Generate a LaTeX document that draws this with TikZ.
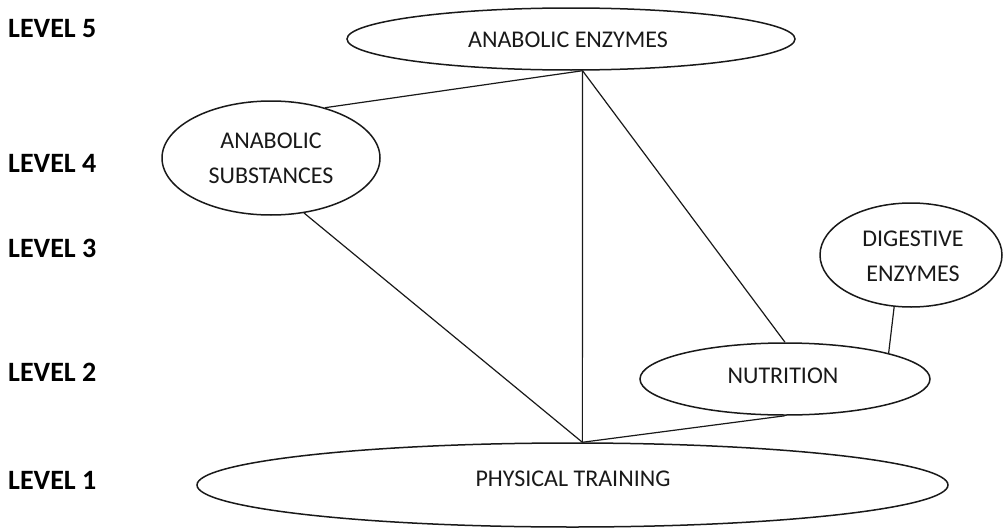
\documentclass[tikz,border=0pt]{standalone}
\usepackage{fontspec}
\setmainfont{Carlito}
\usetikzlibrary{shapes.geometric}
\begin{document}
\begin{tikzpicture}[x=1pt,y=-1pt,
  oval/.style={draw, ellipse, line width=1.5pt, black!90, inner sep=0pt},
  lab/.style={font=\fontsize{24}{35}\selectfont, text=black!90, align=center, inner sep=0pt},
  link/.style={line width=1.2pt, black!90},
  lvl/.style={anchor=west, inner sep=0pt, font=\fontsize{28}{30}\selectfont\bfseries}]
\useasboundingbox (0,0) rectangle (1004,530);
\fill[white] (0,0) rectangle (1004,530);
% level labels
\node[lvl] (l5) at (8,29) {LEVEL 5};
\node[lvl] (l4) at (8,163) {LEVEL 4};
\node[lvl] (l3) at (8,248) {LEVEL 3};
\node[lvl] (l2) at (8,372) {LEVEL 2};
\node[lvl] (l1) at (8,480) {LEVEL 1};
% ellipses
\node[oval, minimum width=448pt, minimum height=62pt] (ae) at (571,39) {};
\node[lab] (aet) at (568,40) {ANABOLIC ENZYMES};
\node[oval, minimum width=218pt, minimum height=114pt] (as) at (271,158) {};
\node[lab] (ast) at (271,158) {ANABOLIC\\SUBSTANCES};
\node[oval, minimum width=182pt, minimum height=104pt] (de) at (911,255) {};
\node[lab] (det) at (913,256) {DIGESTIVE\\ENZYMES};
\node[oval, minimum width=290pt, minimum height=72pt] (nu) at (785,379) {};
\node[lab] (nut) at (783,376) {NUTRITION};
\node[oval, minimum width=751pt, minimum height=84pt] (pt) at (572.5,485) {};
\node[lab] (ptt) at (573,479) {PHYSICAL TRAINING};
% connectors
\draw[link] (ae.-70.5) -- (as.43.9);
\draw[link] (ae.-70.5) -- (pt.77);
\draw[link] (ae.-70.5) -- (nu.north);
\draw[link] (as.-59.8) -- (pt.77);
\draw[link] (pt.77) -- (nu.south);
\draw[link] (de.-108.4) -- (nu.14.9);
\end{tikzpicture}
\end{document}
